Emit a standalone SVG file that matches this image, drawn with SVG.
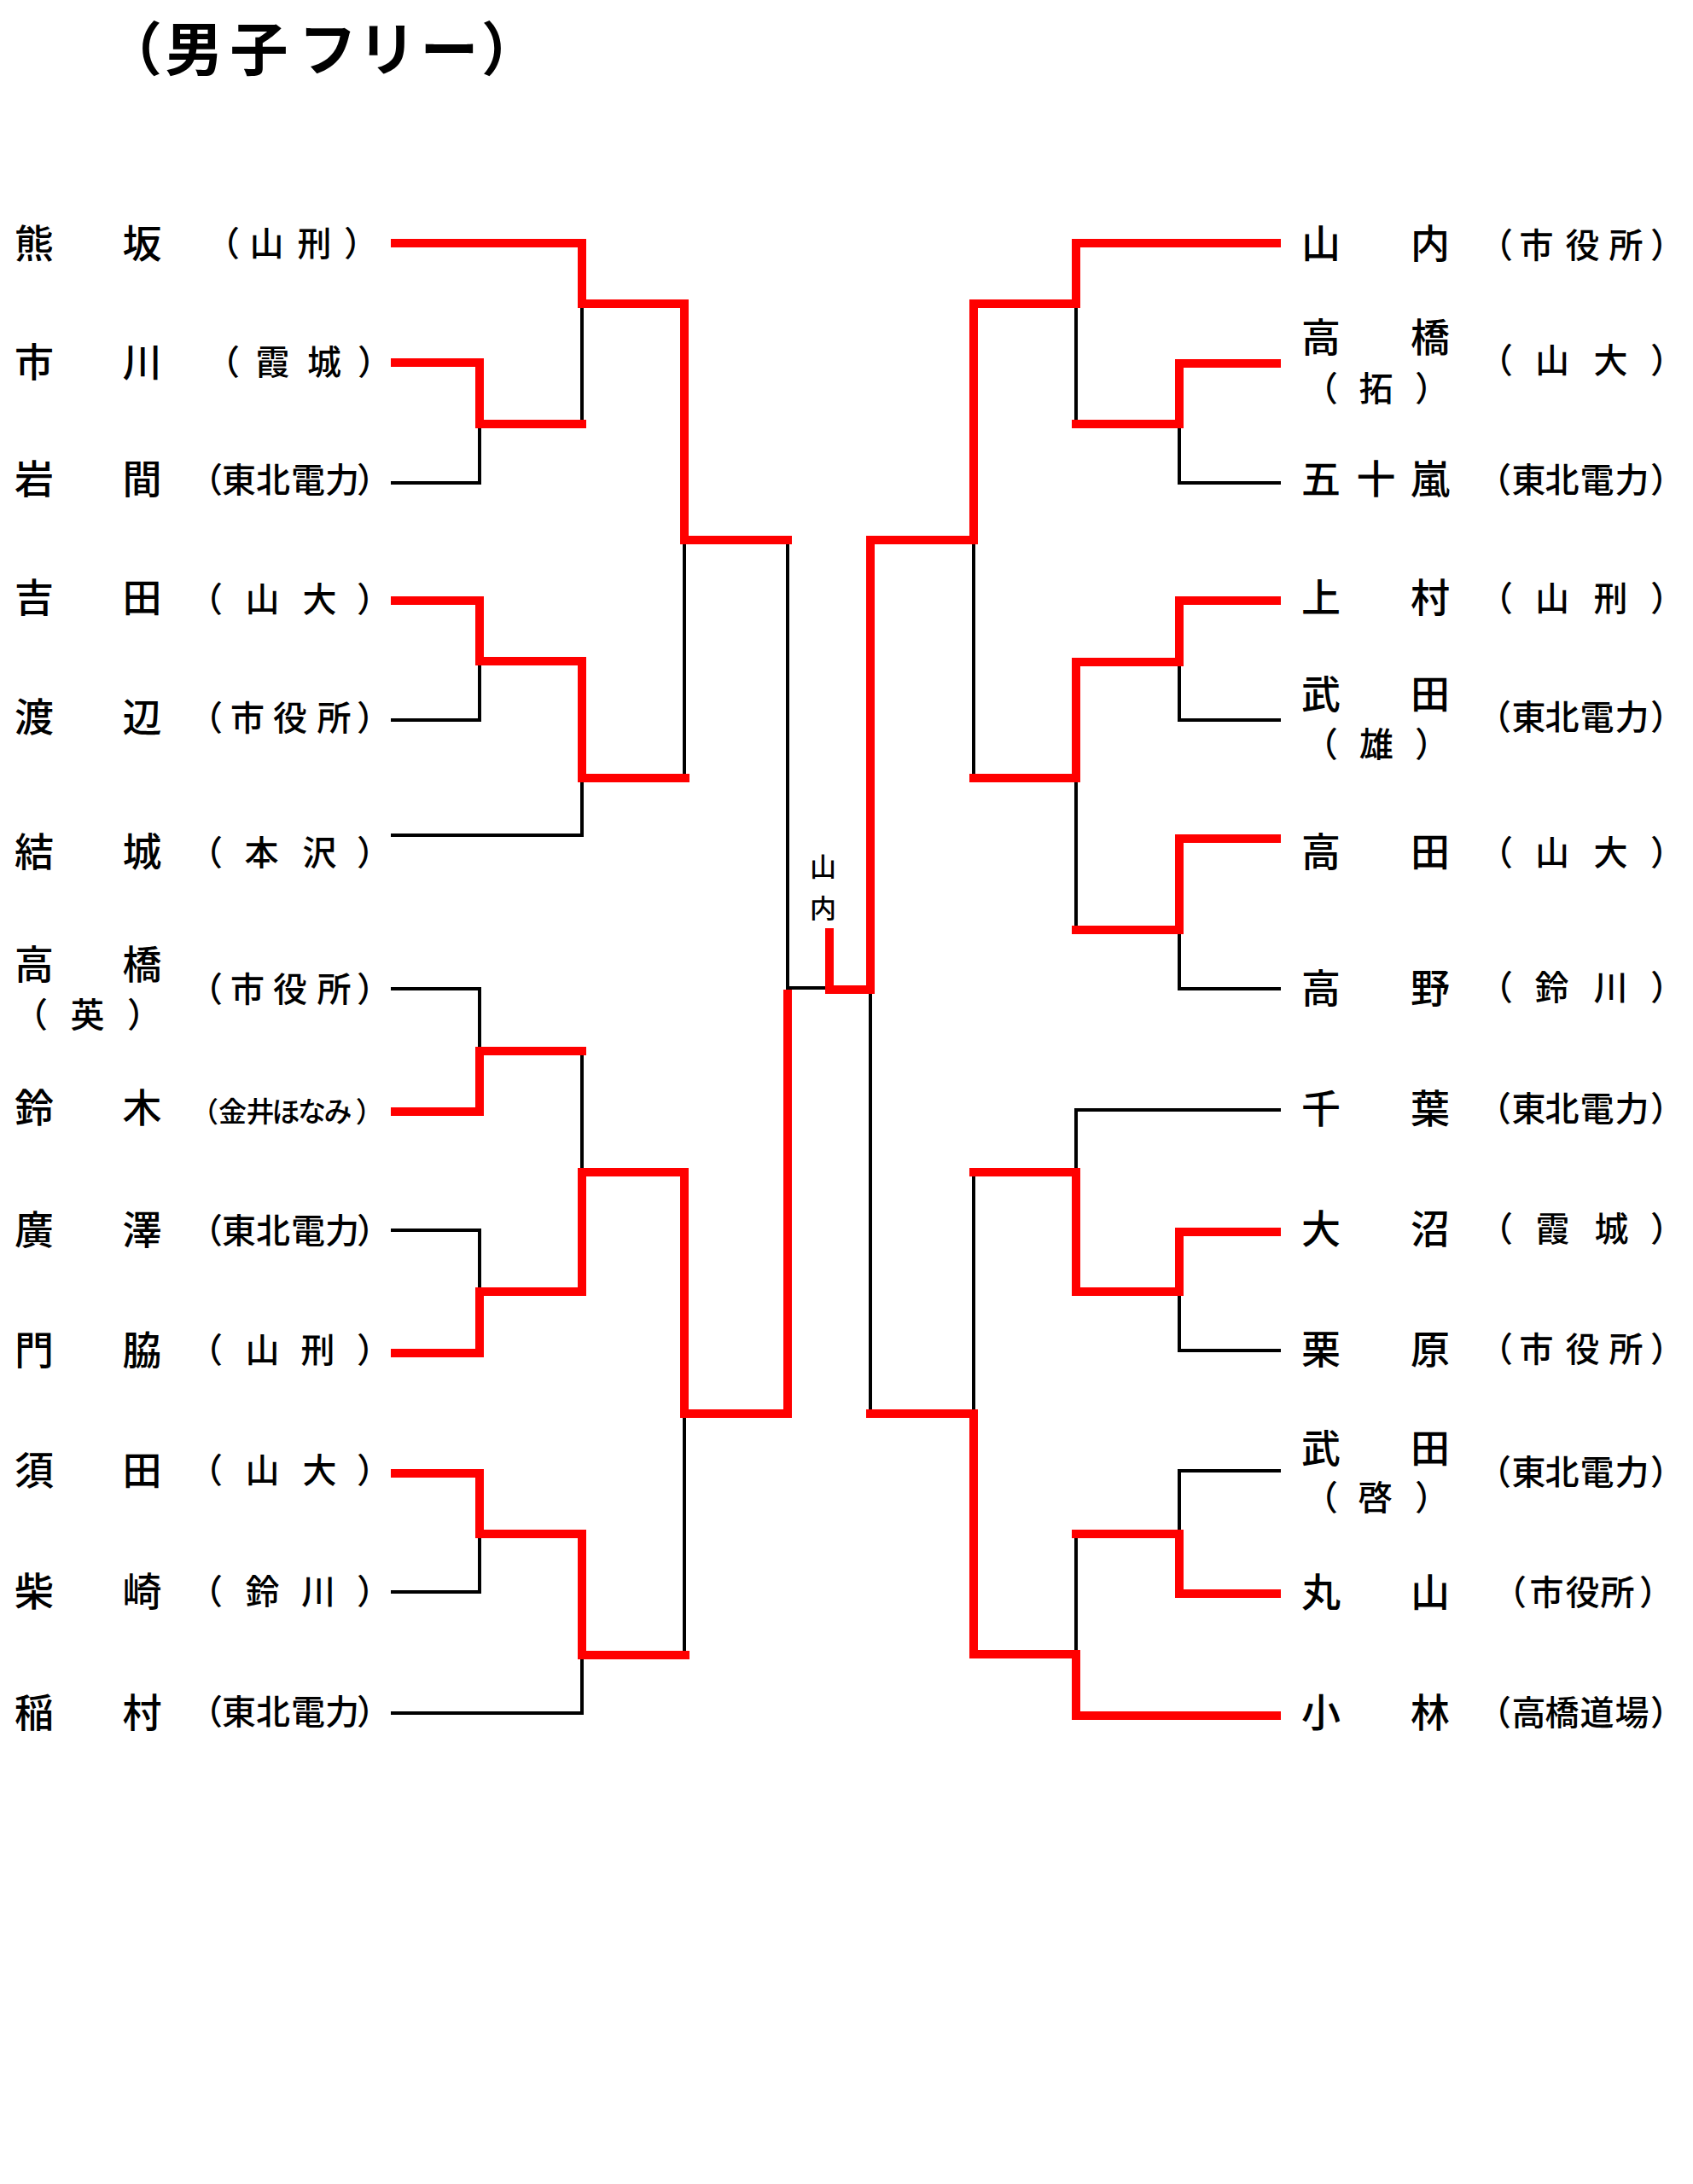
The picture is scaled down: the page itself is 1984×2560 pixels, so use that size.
<svg xmlns="http://www.w3.org/2000/svg" width="1984" height="2560" viewBox="0 0 1984 2560">
<style>
text{font-family:"Noto Sans CJK JP","Noto Sans CJK SC",sans-serif;fill:#000}
.title{font-size:68px;font-weight:bold}
.nm{font-size:46px;font-weight:500}
.af{font-size:40px;font-weight:500}
.sm{font-size:33px;font-weight:500}
.mid{font-size:31px;font-weight:500}
.k{fill:none;stroke:#000;stroke-width:4;stroke-linecap:butt;stroke-linejoin:miter}
.r{fill:none;stroke:#FF0000;stroke-width:10;stroke-linecap:butt;stroke-linejoin:miter}
</style>
<rect width="1984" height="2560" fill="#fff"/>
<text class="title" x="122 193.5 269.5 350 419.5 492.5 564" y="83">（男子フリー）</text>

<g id="connectors">
<!-- left black -->
<path class="k" d="M458,566 H562 V497"/>
<path class="k" d="M458,844 H562 V775"/>
<path class="k" d="M458,979 H682 V912"/>
<path class="k" d="M458,1159 H562 V1232"/>
<path class="k" d="M458,1442 H562 V1514"/>
<path class="k" d="M458,1866 H562 V1798"/>
<path class="k" d="M458,2008 H682 V1940"/>
<path class="k" d="M682,356 V497"/>
<path class="k" d="M682,1232 V1374"/>
<path class="k" d="M802,633 V912"/>
<path class="k" d="M802,1657 V1940"/>
<path class="k" d="M923,633 V1158 H968"/>
<!-- right black -->
<path class="k" d="M1501,566 H1382 V497"/>
<path class="k" d="M1501,844 H1382 V776"/>
<path class="k" d="M1501,1159 H1382 V1090"/>
<path class="k" d="M1501,1301 H1261 V1374"/>
<path class="k" d="M1501,1583 H1382 V1514"/>
<path class="k" d="M1501,1724 H1382 V1798"/>
<path class="k" d="M1261,356 V497"/>
<path class="k" d="M1261,912 V1090"/>
<path class="k" d="M1261,1798 V1939"/>
<path class="k" d="M1141,633 V912"/>
<path class="k" d="M1141,1374 V1657"/>
<path class="k" d="M1020,1160 V1657"/>
<!-- left red -->
<path class="r" d="M458,285 H682 V356 H802 V633 H928"/>
<path class="r" d="M458,425 H562 V497 H687"/>
<path class="r" d="M458,704 H562 V775 H682 V912 H808"/>
<path class="r" d="M458,1303 H562 V1232 H687"/>
<path class="r" d="M458,1586 H562 V1514 H682 V1374 H802 V1657 H923 V1160"/>
<path class="r" d="M458,1727 H562 V1798 H682 V1940 H808"/>
<!-- right red -->
<path class="r" d="M1501,285 H1261 V356 H1141 V633 H1020 V1160 H972 V1088"/>
<path class="r" d="M1501,426 H1382 V497 H1256"/>
<path class="r" d="M1501,704 H1382 V776 H1261 V912 H1136"/>
<path class="r" d="M1501,983 H1382 V1090 H1256"/>
<path class="r" d="M1501,1444 H1382 V1514 H1261 V1374 H1136"/>
<path class="r" d="M1501,1868 H1382 V1798 H1256"/>
<path class="r" d="M1501,2011 H1261 V1939 H1141 V1657 H1015"/>
</g>

<g id="winner-label">
<text class="mid" x="964.5" y="1026.5" text-anchor="middle">山</text>
<text class="mid" x="964.5" y="1075.5" text-anchor="middle">内</text>
</g>

<!-- left players -->
<g id="p-kumasaka"><text class="nm" x="17 143.5" y="301.5">熊坂</text><text class="af" x="241 292.5 348.5 403" y="300">（山刑）</text></g>
<g id="p-ichikawa"><text class="nm" x="17 143.5" y="441">市川</text><text class="af" x="241 299.5 360 419" y="439">（霞城）</text></g>
<g id="p-iwama"><text class="nm" x="17 143.5" y="578">岩間</text><text class="af" x="221 260 300 341 381 418" y="576.5">（東北電力）</text></g>
<g id="p-yoshida"><text class="nm" x="17 143.5" y="717">吉田</text><text class="af" x="221 287.5 354.5 418" y="717">（山大）</text></g>
<g id="p-watanabe"><text class="nm" x="17 143.5" y="857">渡辺</text><text class="af" x="221 270 320 371.5 418" y="856">（市役所）</text></g>
<g id="p-yuki"><text class="nm" x="17 143.5" y="1015">結城</text><text class="af" x="221 286.5 354.5 418" y="1014">（本沢）</text></g>
<g id="p-takahashi-ei"><text class="nm" x="17 143.5" y="1147">高橋</text><text class="af" x="16 82.5 149" y="1204">（英）</text><text class="af" x="221 270 320 371.5 418" y="1173.5">（市役所）</text></g>
<g id="p-suzuki"><text class="nm" x="17 143.5" y="1315">鈴木</text><text class="sm" x="223 256 288.5 318.5 349 379.5 416.7" y="1315">（金井ほなみ）</text></g>
<g id="p-hirosawa"><text class="nm" x="17 143.5" y="1458">廣澤</text><text class="af" x="221 260 300 341 381 418" y="1457">（東北電力）</text></g>
<g id="p-kadowaki"><text class="nm" x="17 143.5" y="1599">門脇</text><text class="af" x="221 287.5 352.5 418" y="1597">（山刑）</text></g>
<g id="p-suda"><text class="nm" x="17 143.5" y="1740">須田</text><text class="af" x="221 287.5 354.5 418" y="1738">（山大）</text></g>
<g id="p-shibasaki"><text class="nm" x="17 143.5" y="1882">柴崎</text><text class="af" x="221 287.5 353 418" y="1880">（鈴川）</text></g>
<g id="p-inamura"><text class="nm" x="17 143.5" y="2023.5">稲村</text><text class="af" x="221 260 300 341 381 418" y="2021">（東北電力）</text></g>

<!-- right players -->
<g id="p-yamauchi"><text class="nm" x="1525 1653" y="301.5">山内</text><text class="af" x="1733 1780.5 1834.5 1885.5 1934" y="302">（市役所）</text></g>
<g id="p-takahashi-taku"><text class="nm" x="1525 1653" y="412">高橋</text><text class="af" x="1528 1592.5 1658" y="470">（拓）</text><text class="af" x="1733 1799 1867.5 1934" y="437">（山大）</text></g>
<g id="p-igarashi"><text class="nm" x="1525 1589.5 1653" y="578">五十嵐</text><text class="af" x="1731 1771.5 1810.5 1851.5 1892.5 1934" y="576.5">（東北電力）</text></g>
<g id="p-uemura"><text class="nm" x="1525 1653" y="717">上村</text><text class="af" x="1733 1799 1867.5 1934" y="716">（山刑）</text></g>
<g id="p-takeda-yu"><text class="nm" x="1525 1653" y="829.5">武田</text><text class="af" x="1528 1593 1658" y="886.5">（雄）</text><text class="af" x="1731 1771.5 1810.5 1851.5 1892.5 1934" y="855">（東北電力）</text></g>
<g id="p-takada"><text class="nm" x="1525 1653" y="1015">高田</text><text class="af" x="1733 1799 1867.5 1934" y="1014">（山大）</text></g>
<g id="p-takano"><text class="nm" x="1525 1653" y="1175">高野</text><text class="af" x="1733 1798.5 1867.5 1934" y="1172">（鈴川）</text></g>
<g id="p-chiba"><text class="nm" x="1525 1653" y="1316">千葉</text><text class="af" x="1731 1771.5 1810.5 1851.5 1892.5 1934" y="1314">（東北電力）</text></g>
<g id="p-onuma"><text class="nm" x="1525 1653" y="1456.5">大沼</text><text class="af" x="1733 1799.5 1868.5 1934" y="1455">（霞城）</text></g>
<g id="p-kurihara"><text class="nm" x="1525 1653" y="1597.5">栗原</text><text class="af" x="1733 1780.5 1834.5 1885.5 1934" y="1595.5">（市役所）</text></g>
<g id="p-takeda-kei"><text class="nm" x="1525 1653" y="1714">武田</text><text class="af" x="1528 1591.5 1658" y="1770">（啓）</text><text class="af" x="1731 1771.5 1810.5 1851.5 1892.5 1934" y="1739.5">（東北電力）</text></g>
<g id="p-maruyama"><text class="nm" x="1525 1653" y="1882.5">丸山</text><text class="af" x="1749 1792.5 1834.5 1875.5 1921" y="1880.5">（市役所）</text></g>
<g id="p-kobayashi"><text class="nm" x="1525 1653" y="2023.5">小林</text><text class="af" x="1731 1771.5 1810.5 1851.5 1892.5 1934" y="2021.5">（高橋道場）</text></g>
</svg>
